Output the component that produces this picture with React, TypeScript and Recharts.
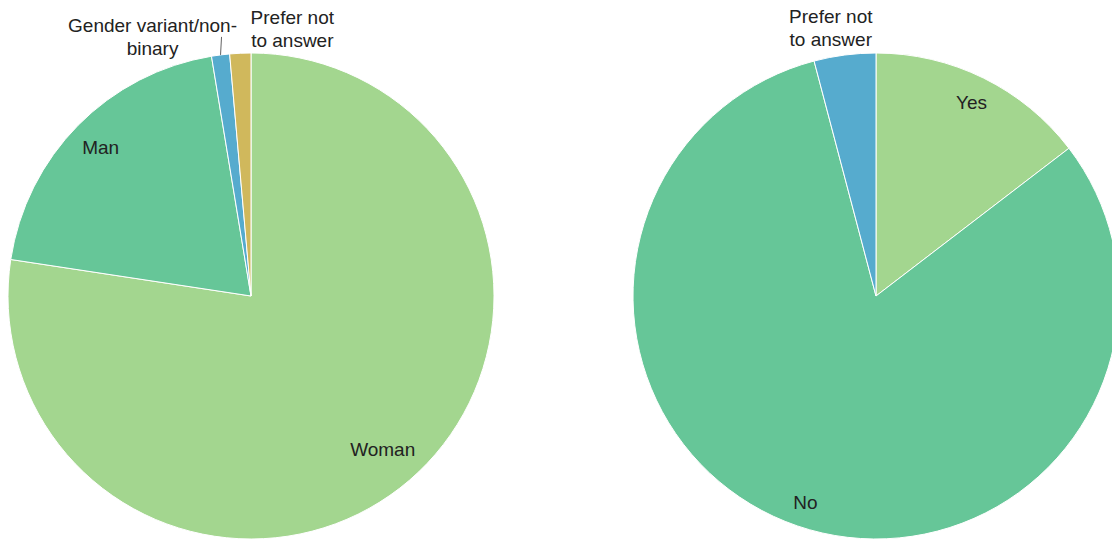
import { Pie, PieChart, Cell } from "recharts";

// left pie: gender
const genderCategories = ["Woman", "Man", "Gender variant/non-binary", "Prefer not to answer"];
const genderValues = [77.4, 20.0, 1.2, 1.4];
const genderLabelLines = [["Woman"], ["Man"], ["Gender variant/non-", "binary"], ["Prefer not", "to answer"]];

// right pie: yes / no
const answerCategories = ["Yes", "No", "Prefer not to answer"];
const answerValues = [14.6, 81.3, 4.1];
const answerLabelLines = [["Yes"], ["No"], ["Prefer not", "to answer"]];

const genderColors = ["#a3d68f", "#66c698", "#56abce", "#d0b85c"];
const answerColors = ["#a3d68f", "#66c698", "#56abce"];

const FONT = "'Liberation Sans', Arial, sans-serif";
const FONT_SIZE = 19;
const LINE_H = 23;
const RAD = Math.PI / 180;

type OutsideLayout = { dx: number; dy: number; leader?: number };

const genderOutside: Record<number, OutsideLayout> = {
    2: { dx: -68, dy: -23, leader: 18 },
    3: { dx: 52, dy: -29 },
};
const answerOutside: Record<number, OutsideLayout> = {
    2: { dx: -14, dy: -32 },
};

let ctx: CanvasRenderingContext2D | null = null;
function textWidth(s: string) {
    if (!ctx) ctx = document.createElement("canvas").getContext("2d");
    if (!ctx) return s.length * FONT_SIZE * 0.55;
    ctx.font = `${FONT_SIZE}px ${FONT}`;
    return ctx.measureText(s).width;
}

const makeLabel = (lines: string[][], outside: Record<number, OutsideLayout>) => (props: any) => {
    const { cx, cy, midAngle, outerRadius, index } = props;
    const text = lines[index];
    const o = outside[index];
    const c = Math.cos(-midAngle * RAD);
    const s = Math.sin(-midAngle * RAD);
    if (o) {
        const ex = cx + outerRadius * c;
        const ey = cy + outerRadius * s;
        return (
            <g>
                {o.leader ? (
                    <line x1={ex} y1={ey} x2={ex + 1} y2={ey - o.leader} stroke="#636363" strokeWidth={1} />
                ) : null}
                <text x={ex + o.dx} y={ey + o.dy} textAnchor="middle" fill="#222" fontFamily={FONT} fontSize={FONT_SIZE}>
                    {text.map((t, i) => (
                        <tspan key={i} x={ex + o.dx} dy={i === 0 ? 0 : LINE_H}>{t}</tspan>
                    ))}
                </text>
            </g>
        );
    }
    // keep the text box inside the slice, outer corner at 95% of the radius
    const w = textWidth(text[0]);
    const h = 18;
    const T = outerRadius * 0.95;
    const b = Math.abs(c) * w / 2 + Math.abs(s) * h / 2;
    const k = (w * w + h * h) / 4 - T * T;
    const r = -b + Math.sqrt(b * b - k);
    const x = cx + r * c;
    const y = cy + r * s;
    return (
        <text x={x} y={y} dy="0.35em" textAnchor="middle" fill="#222" fontFamily={FONT} fontSize={FONT_SIZE}>
            {text[0]}
        </text>
    );
};

export default function App() {
    const genderData = genderCategories.map((name, i) => ({ name, value: genderValues[i] }));
    const answerData = answerCategories.map((name, i) => ({ name, value: answerValues[i] }));

    return (
        <div style={{ position: "absolute", left: 0, top: 0, width: 1112, height: 540, background: "#fff", overflow: "hidden" }}>
            <PieChart width={1112} height={540} margin={{ top: 0, right: 0, bottom: 0, left: 0 }}>
                <Pie
                    data={genderData}
                    dataKey="value"
                    nameKey="name"
                    cx={251}
                    cy={296}
                    outerRadius={243}
                    startAngle={90}
                    endAngle={-270}
                    stroke="#ffffff"
                    strokeWidth={1}
                    label={makeLabel(genderLabelLines, genderOutside)}
                    labelLine={false}
                    isAnimationActive={false}
                >
                    {genderData.map((d, i) => (
                        <Cell key={d.name} fill={genderColors[i]} />
                    ))}
                </Pie>
                <Pie
                    data={answerData}
                    dataKey="value"
                    nameKey="name"
                    cx={876}
                    cy={296}
                    outerRadius={243}
                    startAngle={90}
                    endAngle={-270}
                    stroke="#ffffff"
                    strokeWidth={1}
                    label={makeLabel(answerLabelLines, answerOutside)}
                    labelLine={false}
                    isAnimationActive={false}
                >
                    {answerData.map((d, i) => (
                        <Cell key={d.name} fill={answerColors[i]} />
                    ))}
                </Pie>
            </PieChart>
        </div>
    );
}
